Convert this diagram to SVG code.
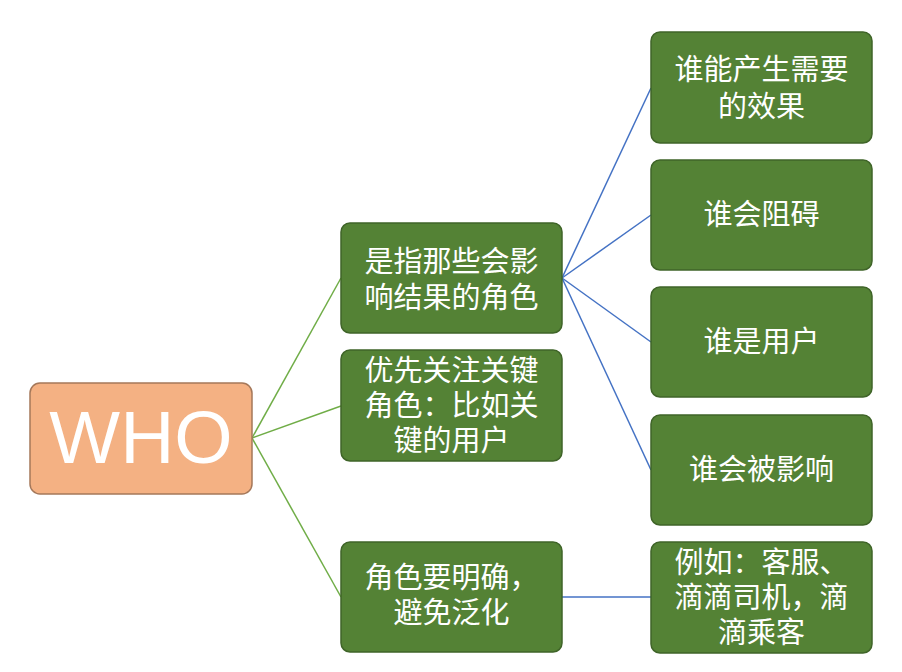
<svg xmlns="http://www.w3.org/2000/svg" width="902" height="672" viewBox="0 0 902 672">
<style>
.g rect{fill:#548235;stroke:#3F6428;stroke-width:1.5}
.g text{fill:#ffffff;font-family:"Noto Sans CJK SC","Noto Sans",sans-serif;font-size:29px;text-anchor:middle}
.lg{stroke:#70AD47;stroke-width:1.5;fill:none}
.lb{stroke:#4472C4;stroke-width:1.5;fill:none}
</style>
<rect width="902" height="672" fill="#ffffff"/>
<g id="connectors">
<line class="lg" x1="252" y1="438" x2="341" y2="278"/>
<line class="lg" x1="252" y1="438" x2="341" y2="406"/>
<line class="lg" x1="252" y1="438" x2="341" y2="597"/>
<line class="lb" x1="562" y1="278" x2="651" y2="88"/>
<line class="lb" x1="562" y1="278" x2="651" y2="215"/>
<line class="lb" x1="562" y1="278" x2="651" y2="342"/>
<line class="lb" x1="562" y1="278" x2="651" y2="470"/>
<line class="lb" x1="562" y1="597" x2="651" y2="597"/>
</g>
<g id="who">
<rect x="30" y="383" width="222" height="111" rx="10" fill="#F4B183" stroke="#A5785A" stroke-width="1.5"/>
<text x="141" y="463" fill="#ffffff" font-family="Liberation Sans, Arial, sans-serif" font-size="75" text-anchor="middle">WHO</text>
</g>
<g id="n1" class="g">
<rect x="341" y="223" width="221" height="110" rx="9"/>
<text x="451.5" y="272">是指那些会影</text>
<text x="451.5" y="308">响结果的角色</text>
</g>
<g id="n2" class="g">
<rect x="341" y="350" width="221" height="111" rx="9"/>
<text x="451.5" y="381">优先关注关键</text>
<text x="451.5" y="416">角色：比如关</text>
<text x="451.5" y="451">键的用户</text>
</g>
<g id="n3" class="g">
<rect x="341" y="542" width="221" height="110" rx="9"/>
<text x="451.5" y="588">角色要明确，</text>
<text x="451.5" y="623">避免泛化</text>
</g>
<g id="r1" class="g">
<rect x="651" y="32" width="221" height="111" rx="9"/>
<text x="761.5" y="80">谁能产生需要</text>
<text x="761.5" y="117">的效果</text>
</g>
<g id="r2" class="g">
<rect x="651" y="160" width="221" height="110" rx="9"/>
<text x="761.5" y="225">谁会阻碍</text>
</g>
<g id="r3" class="g">
<rect x="651" y="287" width="221" height="110" rx="9"/>
<text x="761.5" y="352">谁是用户</text>
</g>
<g id="r4" class="g">
<rect x="651" y="415" width="221" height="110" rx="9"/>
<text x="761.5" y="480">谁会被影响</text>
</g>
<g id="r5" class="g">
<rect x="651" y="542" width="221" height="111" rx="9"/>
<text x="761.5" y="573">例如：客服、</text>
<text x="761.5" y="608">滴滴司机，滴</text>
<text x="761.5" y="643">滴乘客</text>
</g>
</svg>
